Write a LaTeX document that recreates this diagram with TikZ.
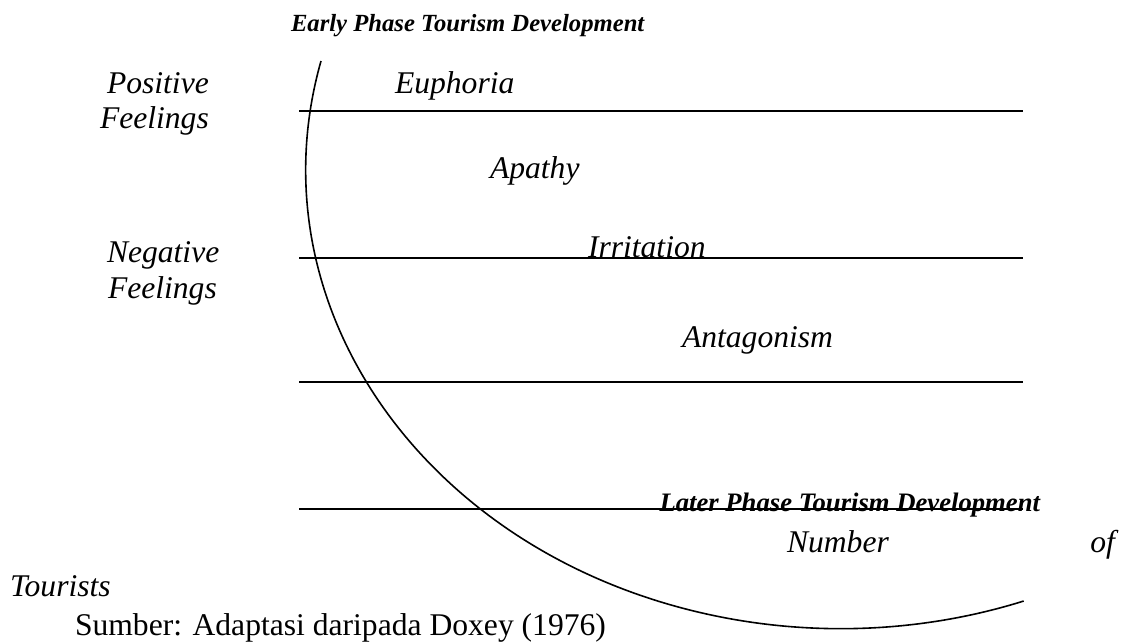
\documentclass[tikz,border=0pt]{standalone}
\usepackage{fontspec}
\setmainfont{Liberation Serif}[ItalicFont={Liberation Serif Italic},BoldFont={Liberation Serif Bold},BoldItalicFont={Liberation Serif Bold Italic}]
\begin{document}
\begin{tikzpicture}[x=0.75pt,y=-0.75pt,
    lbl/.style={inner sep=0pt,outer sep=0pt,anchor=base west,font=\fontsize{23.7}{27}\selectfont\itshape},
    phase/.style={inner sep=0pt,outer sep=0pt,anchor=base west,font=\fontsize{18.5}{22}\selectfont\bfseries\itshape},
    level/.style={line width=1.5pt}]
    \useasboundingbox (0,0) rectangle (1126,643);
    % feeling levels
    \foreach \yy in {111,258,382,509}
        \draw[level] (299,\yy) -- (1023,\yy);
    % tourism curve
    \draw[line width=1.2pt] (321,61) arc[start angle=166.3,end angle=290,x radius=401.25pt,y radius=344.25pt];
    \node[phase] (early) at (291,31) {Early Phase Tourism Development};
    \node[lbl] (pos) at (107,93) {Positive};
    \node[lbl] (posf) at (100,128) {Feelings};
    \node[lbl] (neg) at (107,262) {Negative};
    \node[lbl] (negf) at (108,298) {Feelings};
    \node[lbl] (eup) at (395,93) {Euphoria};
    \node[lbl] (apa) at (490,178) {Apathy};
    \node[lbl] (irr) at (588,257) {Irritation};
    \node[lbl] (ant) at (682,347) {Antagonism};
    \node[phase,anchor=base east,font=\fontsize{20}{24}\selectfont\bfseries\itshape] (later) at (1040,511) {Later Phase Tourism Development};
    \node[lbl] (num) at (787,552) {Number};
    \node[lbl,anchor=base east] (of) at (1115,552) {of};
    \node[lbl] (tour) at (10,596) {Tourists};
    \node[lbl,font=\fontsize{23.7}{27}\selectfont] (src) at (75,635) {Sumber: Adaptasi daripada Doxey (1976)};
\end{tikzpicture}
\end{document}
